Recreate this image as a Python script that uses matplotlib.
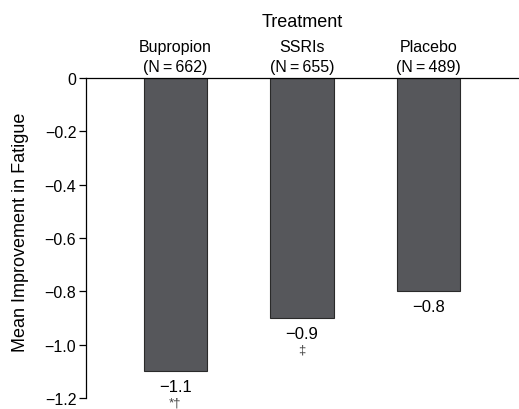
import matplotlib
matplotlib.use("Agg")
import matplotlib.pyplot as plt

plt.rcParams['font.family'] = ['Liberation Sans', 'DejaVu Sans']

treatments = ["Bupropion", "SSRIs", "Placebo"]
n_labels = ["(N\u2009=\u2009662)", "(N\u2009=\u2009655)", "(N\u2009=\u2009489)"]
values = [-1.1, -0.9, -0.8]
value_labels = ["\u22121.1", "\u22120.9", "\u22120.8"]
markers = ["*\u2020", "\u2021", ""]
yticks = [0, -0.2, -0.4, -0.6, -0.8, -1.0, -1.2]
ytick_labels = ["0", "\u22120.2", "\u22120.4", "\u22120.6", "\u22120.8", "\u22121.0", "\u22121.2"]

fig = plt.figure(figsize=(5.19, 4.10), dpi=100)
ax = fig.add_axes([86/519, 1-399/410, 1-86/519, (399-79)/410])

x = list(range(len(treatments)))
ax.bar(x, values, width=0.5, color="#56575b", edgecolor="#2a2a2a", linewidth=0.8)
ax.set_xlim(-0.707, 2.715)
ax.set_ylim(-1.2, 0)
ax.set_yticks(yticks)
ax.set_yticklabels(ytick_labels, fontsize=11.5)
ax.set_xticks([])
for s in ["right", "bottom"]:
    ax.spines[s].set_visible(False)
ax.spines["top"].set_linewidth(0.9)
ax.spines["left"].set_linewidth(0.9)
ax.tick_params(axis='y', length=5, width=0.9, pad=2)
ax.set_ylabel("Mean Improvement in Fatigue", fontsize=13, va="center")
ax.yaxis.set_label_coords(-0.152, 0.52)

for xi, v, vl, m in zip(x, values, value_labels, markers):
    ax.annotate(vl, (xi, v), xytext=(0, -11), textcoords="offset points",
                ha="center", va="center", fontsize=12)
    if m:
        ax.annotate(m, (xi, v), xytext=(0, -22.5), textcoords="offset points",
                    ha="center", va="center", fontsize=9.5, color="#444444")

for xi, t, n in zip(x, treatments, n_labels):
    ax.annotate(t, (xi, 0), xytext=(0, 23), textcoords="offset points",
                ha="center", va="center", fontsize=11.5)
    ax.annotate(n, (xi, 0), xytext=(0, 8.6), textcoords="offset points",
                ha="center", va="center", fontsize=11.5)

ax.annotate("Treatment", (1, 0), xytext=(0, 41), textcoords="offset points",
            ha="center", va="center", fontsize=13)

fig.savefig("out.png", dpi=100)
